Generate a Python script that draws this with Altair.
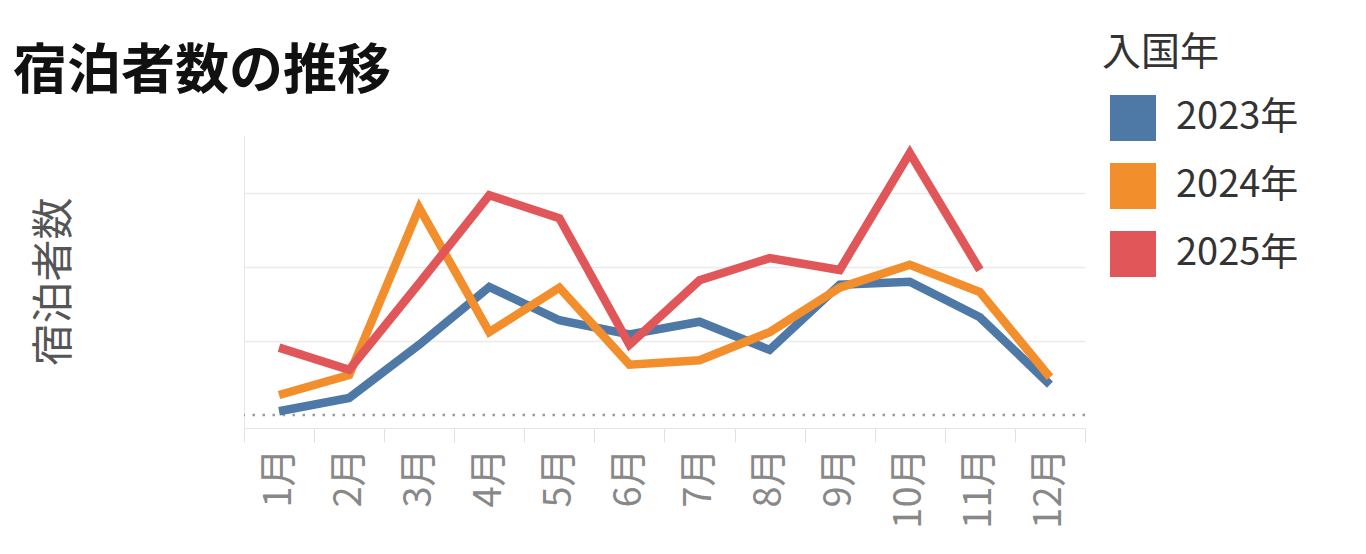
import altair as alt
import pandas as pd

months = ["1月", "2月", "3月", "4月", "5月", "6月", "7月", "8月", "9月", "10月", "11月", "12月"]
years = ["2023年", "2024年", "2025年"]
v2023 = [50, 230, 950, 1730, 1280, 1090, 1260, 880, 1760, 1800, 1320, 410]
v2024 = [270, 540, 2800, 1120, 1720, 680, 740, 1120, 1720, 2030, 1660, 510]
v2025 = [910, 610, 1780, 2970, 2660, 950, 1820, 2120, 1960, 3540, 1960]
colors = ["#4e79a7", "#f28e2b", "#e15759"]

rows = []
for yr, vals in zip(years, [v2023, v2024, v2025]):
    for m, v in zip(months, vals):
        rows.append({"月": m, "入国年": yr, "宿泊者数": v})
df = pd.DataFrame(rows)
zero = pd.DataFrame({"y": [0]})

FONT = "Noto Sans CJK JP"

x_enc = alt.X(
    "月:N", sort=months, title=None,
    scale=alt.Scale(type="band", paddingInner=0, paddingOuter=0),
    axis=alt.Axis(labelAngle=-90, labelFontSize=38, labelColor="#888888", labelFont=FONT,
                  labelPadding=6, tickBand="extent", ticks=True, tickColor="#e2e2e2",
                  tickSize=14, domainColor="#e6e6e6", grid=False),
)
y_scale = alt.Scale(domain=[-176, 3784], nice=False, zero=False)
y_enc = alt.Y("宿泊者数:Q", scale=y_scale,
              axis=alt.Axis(labels=False, ticks=False, values=[1000, 2000, 3000], grid=True,
                            gridColor="#ebebeb", gridWidth=1.5, domainColor="#e6e6e6",
                            title="宿泊者数", titleFont=FONT, titleFontSize=42,
                            titleFontWeight="normal", titleColor="#555555",
                            titleX=-190, titleY=146, titleAngle=-90,
                            titleAlign="center", titleBaseline="middle"))
color_enc = alt.Color("入国年:N", scale=alt.Scale(domain=years, range=colors),
                      legend=alt.Legend(orient="none", legendX=858, legendY=-101,
                                        title="入国年", titleFont=FONT, titleFontSize=39,
                                        titleFontWeight="normal", titleColor="#333333",
                                        titlePadding=22, symbolType="square",
                                        symbolSize=2116, symbolStrokeWidth=0,
                                        symbolOffset=8, symbolOpacity=1,
                                        labelFont=FONT, labelFontSize=38, labelColor="#333333",
                                        labelOffset=20, rowPadding=22, padding=0,
                                        labelLimit=300))

points = alt.Chart(df).mark_point(filled=True, shape="square", size=0).encode(
    x=x_enc, y=y_enc, color=color_enc
)
lines = alt.Chart(df).mark_line(strokeWidth=8.5, strokeJoin="miter", strokeCap="butt").encode(
    x=x_enc, y=y_enc, color=color_enc
)

zline = alt.Chart(zero).mark_rule(color="#9a9a9a", strokeWidth=2.5, strokeDash=[2.5, 7.5]).encode(
    y=alt.Y("y:Q", scale=y_scale)
)

chart = alt.layer(points, zline, lines).properties(
    width=841, height=293,
    background="white",
    autosize=alt.AutoSizeParams(type="none"),
    padding={"left": 236, "top": 127, "right": 270, "bottom": 115},
    title=alt.TitleParams("宿泊者数の推移", anchor="start", frame="group", dx=-231,
                          offset=0, dy=109, baseline="alphabetic", font=FONT, fontSize=54,
                          fontWeight="bold", color="#111111"),
).configure_view(strokeWidth=0)

chart.save("out.html", embed_options={"renderer": "svg", "actions": False})
